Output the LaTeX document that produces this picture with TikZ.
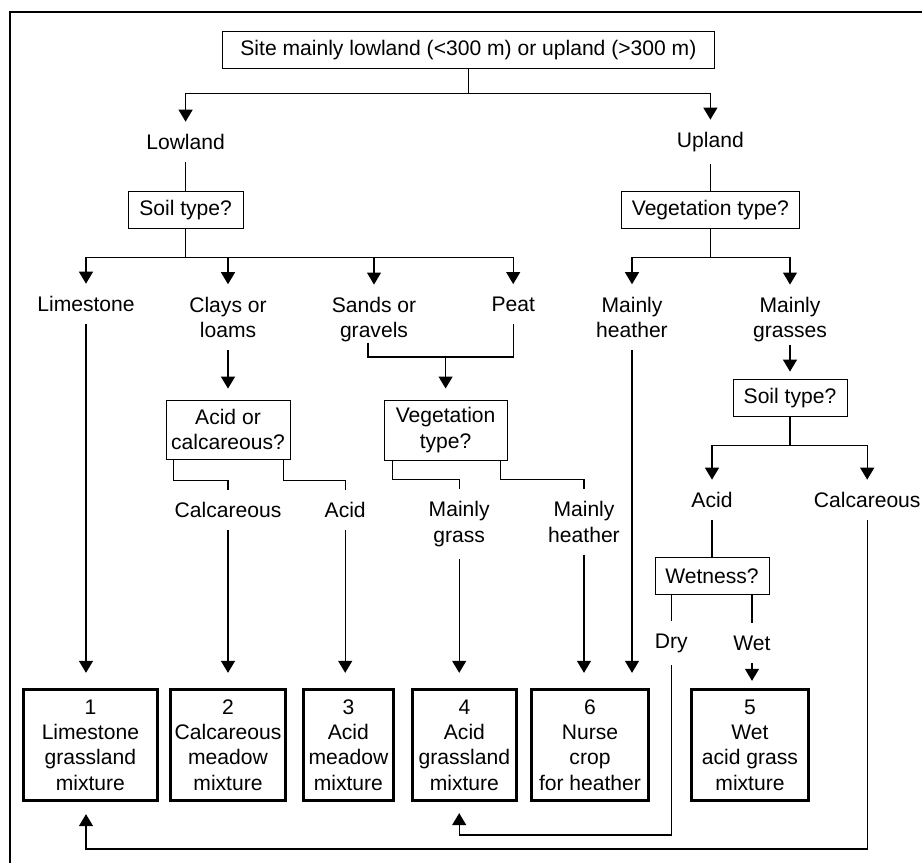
\documentclass[tikz,border=0pt]{standalone}
\usepackage{fontspec}
\setmainfont{Liberation Sans}
\usetikzlibrary{arrows.meta}

\begin{document}
\begin{tikzpicture}[>={Triangle[width=0.35cm,length=0.3cm]},line width=0.8pt,font=\fontsize{15}{18}\selectfont,
qbox/.style={draw,line width=0.7pt,align=center,inner sep=1pt,minimum height=0.925cm},
mixbox/.style={draw,line width=2.2pt,align=center,inner sep=1pt,minimum height=2.78cm},
lbl/.style={align=center,inner xsep=2pt,inner ysep=0.3cm}]
\useasboundingbox (0,0) rectangle (23.05,-21.575);
\draw[line width=1pt] (23.05,-0.3) -- (0.25,-0.3) -- (0.25,-21.6);
% questions
\node[qbox,minimum width=12.28cm] (site) at (11.71,-1.24) {Site mainly lowland (<300 m) or upland (>300 m)};
\node[lbl] (lowland) at (4.64,-3.55) {Lowland};
\node[lbl] (upland) at (17.76,-3.55) {Upland};
\node[qbox,minimum width=2.875cm] (soil1) at (4.64,-5.24) {Soil type?};
\node[qbox,minimum width=4.45cm] (veg1) at (17.76,-5.24) {Vegetation type?};
\node[lbl] (limestone) at (2.15,-7.6) {Limestone};
\node[lbl] (clays) at (5.7,-7.93) {Clays or\\loams};
\node[lbl] (sands) at (9.35,-7.99) {Sands or\\gravels};
\node[lbl] (peat) at (12.83,-7.6) {Peat};
\node[lbl] (heather1) at (15.8,-7.93) {Mainly\\heather};
\node[lbl] (grasses) at (19.75,-7.99) {Mainly\\grasses};
\node[qbox,minimum width=3.1cm,minimum height=1.475cm] (acidcalc) at (5.7,-10.74) {Acid or\\calcareous?};
\coordinate (merge) at (11.14,-8.925);
\node[qbox,minimum width=3.075cm,minimum height=1.5cm] (veg2) at (11.14,-10.75) {Vegetation\\type?};
\node[qbox,minimum width=2.85cm] (soil2) at (19.75,-9.94) {Soil type?};
\node[lbl] (calc1) at (5.7,-12.75) {Calcareous};
\node[lbl] (acid1) at (8.63,-12.75) {Acid};
\node[lbl] (grass) at (11.48,-13.1) {Mainly\\grass};
\node[lbl] (heather2) at (14.6,-13.05) {Mainly\\heather};
\node[lbl] (acid2) at (17.8,-12.5) {Acid};
\node[lbl] (calc2) at (21.68,-12.5) {Calcareous};
\node[qbox,minimum width=2.85cm] (wetness) at (17.8,-14.41) {Wetness?};
\node[lbl] (dry) at (16.78,-16.08) {Dry};
\node[lbl] (wet) at (18.8,-16.08) {Wet};
% mixtures
\node[mixbox,minimum width=3.35cm] (box1) at (2.26,-18.625) {1\\Limestone\\grassland\\mixture};
\node[mixbox,minimum width=2.88cm] (box2) at (5.7,-18.625) {2\\Calcareous\\meadow\\mixture};
\node[mixbox,minimum width=2.26cm] (box3) at (8.71,-18.625) {3\\Acid\\meadow\\mixture};
\node[mixbox,minimum width=2.6cm] (box4) at (11.61,-18.625) {4\\Acid\\grassland\\mixture};
\node[mixbox,minimum width=2.93cm] (box6) at (14.75,-18.625) {6\\Nurse\\crop\\for heather};
\node[mixbox,minimum width=2.93cm] (box5) at (18.75,-18.625) {5\\Wet\\acid grass\\mixture};
% connectors
\draw[->] (site.south) -- ++(0,-0.625) -| (lowland);
\draw[->] (site.south) -- ++(0,-0.625) -| (upland);
\draw (lowland) -- (soil1);
\draw (upland) -- (veg1);
\draw[->] (soil1.south) -- ++(0,-0.725) -| (limestone);
\draw[->] (soil1.south) -- ++(0,-0.725) -| (clays);
\draw[->] (soil1.south) -- ++(0,-0.725) -| (sands);
\draw[->] (soil1.south) -- ++(0,-0.725) -| (peat);
\draw[->] (veg1.south) -- ++(0,-0.725) -| (heather1);
\draw[->] (veg1.south) -- ++(0,-0.725) -| (grasses);
\draw[->,shorten >=0.275cm] (clays) -- (acidcalc);
\draw[shorten <=-0.3cm] ([xshift=-0.15cm]sands.south) |- (peat |- merge) -- (peat);
\draw[->,shorten >=0.275cm] (merge) -- (veg2);
\draw[->,shorten <=-0.25cm,shorten >=0.175cm] (grasses) -- (soil2);
\draw ([xshift=0.2cm]acidcalc.south west) -- ++(0,-0.525) -| (calc1);
\draw ([xshift=-0.175cm]acidcalc.south east) -- ++(0,-0.525) -| (acid1);
\draw ([xshift=0.225cm]veg2.south west) -- ++(0,-0.475) -| (grass);
\draw ([xshift=-0.175cm]veg2.south east) -- ++(0,-0.475) -| (heather2);
\draw[->] (soil2.south) -- ++(0,-0.725) -| (acid2);
\draw[->] (soil2.south) -- ++(0,-0.725) -| (calc2);
\draw (acid2) -- (wetness);
\draw (wetness.south -| dry) -- (dry);
\draw (wetness.south -| wet) -- (wet);
\draw[->,shorten >=0.375cm] (limestone) -- (limestone |- box1.north);
\draw[->,shorten >=0.375cm] (calc1) -- (box2);
\draw[->,shorten >=0.375cm] (acid1) -- (acid1 |- box3.north);
\draw[->,shorten >=0.375cm] (grass) -- (grass |- box4.north);
\draw[->,shorten >=0.375cm] (heather2) -- (heather2 |- box6.north);
\draw[->,shorten >=0.375cm] (heather1) -- (heather1 |- box6.north);
\draw[->,shorten >=0.175cm] (wet) -- (wet |- box5.north);
\draw[->,shorten >=0.275cm] (dry) -- (dry |- 0,-20.875) -| (grass |- box4.south);
\draw[->,shorten >=0.3cm] (calc2) -- (calc2 |- 0,-21.225) -| (limestone |- box1.south);
\end{tikzpicture}
\end{document}
